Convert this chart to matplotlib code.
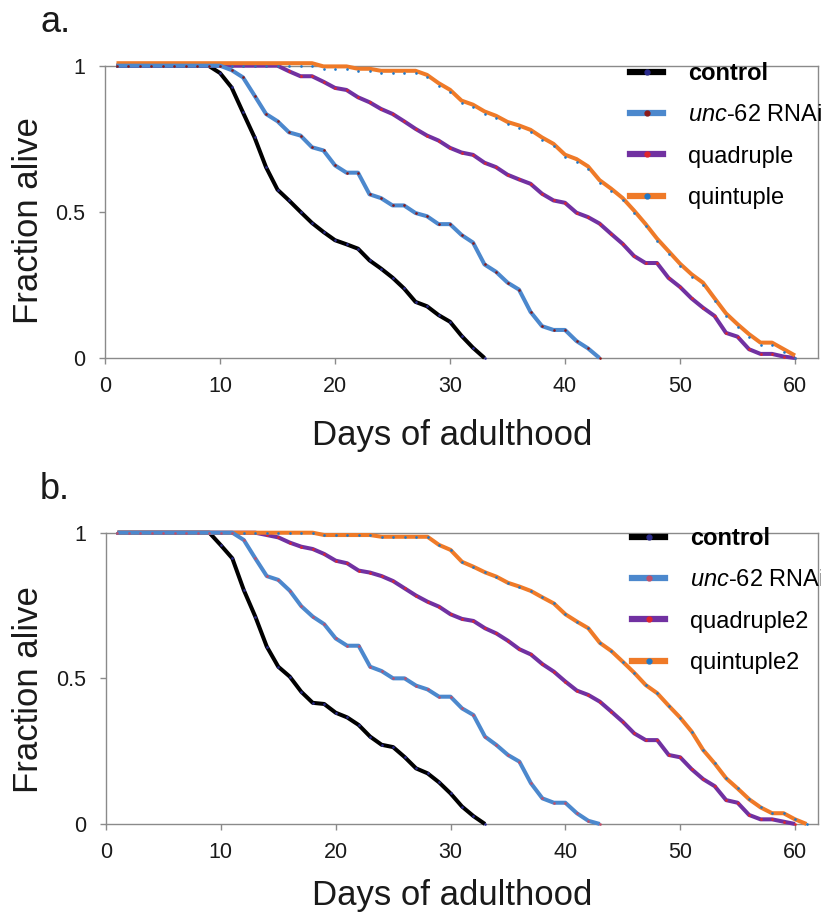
"""
Survival curves: control vs unc-62 RNAi vs quadruple / quintuple mutants
"""

import numpy as np
import matplotlib.pyplot as plt
from matplotlib.lines import Line2D
from matplotlib.transforms import offset_copy

plt.rcParams['font.family'] = ['Liberation Sans', 'DejaVu Sans']
plt.rcParams['mathtext.fontset'] = 'custom'
plt.rcParams['mathtext.it'] = 'Liberation Sans:italic'
plt.rcParams['mathtext.rm'] = 'Liberation Sans'

# ---- panel a: fraction alive per day (day 1 onwards) ----
control_a = [1.0, 1.0, 1.0, 1.0, 1.0, 1.0, 1.0, 1.0, 1.0, 0.975,
             0.926, 0.84, 0.755, 0.653, 0.576, 0.539, 0.50, 0.462, 0.431, 0.403,
             0.389, 0.374, 0.334, 0.306, 0.275, 0.238, 0.192, 0.177, 0.147, 0.124,
             0.076, 0.035, 0.0]
unc62_a = [1.0, 1.0, 1.0, 1.0, 1.0, 1.0, 1.0, 1.0, 1.0, 1.0,
           0.985, 0.96, 0.898, 0.835, 0.81, 0.772, 0.761, 0.721, 0.71, 0.659,
           0.634, 0.634, 0.56, 0.547, 0.522, 0.522, 0.496, 0.485, 0.458, 0.458,
           0.421, 0.395, 0.32, 0.295, 0.258, 0.234, 0.158, 0.109, 0.096, 0.096,
           0.058, 0.033, 0.0]
quad_a = [1.0, 1.0, 1.0, 1.0, 1.0, 1.0, 1.0, 1.0, 1.0, 1.0,
          1.0, 1.0, 1.0, 1.0, 1.0, 0.981, 0.964, 0.964, 0.945, 0.924,
          0.917, 0.892, 0.875, 0.852, 0.835, 0.81, 0.784, 0.761, 0.744, 0.719,
          0.703, 0.695, 0.668, 0.653, 0.627, 0.611, 0.596, 0.562, 0.539, 0.531,
          0.497, 0.482, 0.46, 0.425, 0.391, 0.349, 0.325, 0.325, 0.274, 0.243,
          0.204, 0.172, 0.144, 0.086, 0.073, 0.03, 0.014, 0.014, 0.005, 0.0]
quint_a = [1.0, 1.0, 1.0, 1.0, 1.0, 1.0, 1.0, 1.0, 1.0, 1.0,
           1.0, 1.0, 1.0, 1.0, 1.0, 1.0, 1.0, 1.0, 0.989, 0.989,
           0.989, 0.981, 0.981, 0.974, 0.974, 0.974, 0.974, 0.96, 0.932, 0.909,
           0.872, 0.858, 0.835, 0.82, 0.799, 0.787, 0.772, 0.746, 0.724, 0.687,
           0.672, 0.647, 0.60, 0.571, 0.539, 0.496, 0.45, 0.40, 0.357, 0.314,
           0.278, 0.249, 0.196, 0.144, 0.107, 0.073, 0.044, 0.044, 0.022, 0.0]

# ---- panel b ----
control_b = [1.0, 1.0, 1.0, 1.0, 1.0, 1.0, 1.0, 1.0, 1.0, 0.957,
             0.912, 0.803, 0.712, 0.609, 0.54, 0.506, 0.454, 0.416, 0.412, 0.382,
             0.366, 0.34, 0.30, 0.272, 0.264, 0.23, 0.191, 0.174, 0.143, 0.105,
             0.06, 0.027, 0.0]
unc62_b = [1.0, 1.0, 1.0, 1.0, 1.0, 1.0, 1.0, 1.0, 1.0, 1.0,
           1.0, 0.975, 0.912, 0.851, 0.838, 0.801, 0.748, 0.712, 0.686, 0.637,
           0.612, 0.612, 0.54, 0.525, 0.50, 0.50, 0.475, 0.462, 0.437, 0.437,
           0.397, 0.374, 0.30, 0.271, 0.237, 0.214, 0.14, 0.088, 0.073, 0.073,
           0.037, 0.011, 0.0]
quad_b = [1.0, 1.0, 1.0, 1.0, 1.0, 1.0, 1.0, 1.0, 1.0, 1.0,
          1.0, 1.0, 1.0, 0.992, 0.984, 0.966, 0.952, 0.944, 0.927, 0.904,
          0.895, 0.87, 0.863, 0.851, 0.834, 0.809, 0.784, 0.763, 0.746, 0.72,
          0.704, 0.697, 0.672, 0.654, 0.629, 0.60, 0.582, 0.549, 0.523, 0.489,
          0.458, 0.443, 0.42, 0.386, 0.351, 0.311, 0.288, 0.288, 0.237, 0.229,
          0.188, 0.154, 0.13, 0.082, 0.073, 0.031, 0.016, 0.016, 0.008, 0.0]
quint_b = [1.0, 1.0, 1.0, 1.0, 1.0, 1.0, 1.0, 1.0, 1.0, 1.0,
           1.0, 1.0, 1.0, 1.0, 1.0, 1.0, 1.0, 1.0, 0.992, 0.992,
           0.992, 0.992, 0.992, 0.986, 0.986, 0.986, 0.986, 0.986, 0.958, 0.941,
           0.90, 0.883, 0.864, 0.849, 0.828, 0.815, 0.80, 0.778, 0.757, 0.72,
           0.695, 0.672, 0.622, 0.594, 0.557, 0.519, 0.477, 0.449, 0.406, 0.365,
           0.317, 0.254, 0.208, 0.157, 0.122, 0.085, 0.057, 0.037, 0.037, 0.016,
           0.0]

labels_a = ['control', r'$\mathit{unc}$-$\mathit{62}$ RNAi', 'quadruple', 'quintuple']
labels_b = ['control', r'$\mathit{unc}$-$\mathit{62}$ RNAi', 'quadruple2', 'quintuple2']

x_ticks = [0, 10, 20, 30, 40, 50, 60]
y_ticks = [0, 0.5, 1]
y_ticklabels = ['0', '0.5', '1']

# line colour, marker colour, zorder
line_colors = ['#000000', '#4C88CD', '#7131A1', '#EF7A28']
marker_colors_a = ['#2B2B8C', '#8B1A1A', '#E0262B', '#1F78C8']
marker_colors_b = ['#2B2B8C', '#C0506A', '#E0262B', '#1F78C8']
zorders = [3, 6, 4, 5]

W, H = 821, 916
fig = plt.figure(figsize=(W / 100, H / 100), dpi=100)


def add_px_axes(left, top, right, bottom):
    return fig.add_axes([left / W, 1 - bottom / H, (right - left) / W, (bottom - top) / H])


def draw_panel(ax, series, labels, mcolors, line_shift, leg_xy):
    for i, vals in enumerate(series):
        days = np.arange(1, len(vals) + 1)
        tr = ax.transData
        if i == 3 and line_shift:
            tr = offset_copy(ax.transData, fig=fig, x=0, y=line_shift, units='dots')
        ax.plot(days, vals, '-', color=line_colors[i], lw=2.9, transform=tr,
                zorder=zorders[i], clip_on=False, solid_capstyle='butt')
        ax.plot(days, vals, 'o', color=mcolors[i], ms=1.9, mew=0,
                zorder=zorders[i] + 0.5, clip_on=False)

    ax.set_xlim(0, 62)
    ax.set_ylim(0, 1)
    ax.set_xticks(x_ticks)
    ax.set_yticks(y_ticks)
    ax.set_yticklabels(y_ticklabels)
    for s in ax.spines.values():
        s.set_color('#8A8A8A')
        s.set_linewidth(1.0)
    ax.tick_params(direction='out', length=4, width=1, color='#8A8A8A',
                   labelsize=15.5, labelcolor='#1A1A1A')
    ax.tick_params(axis='x', pad=9)
    ax.tick_params(axis='y', pad=10)

    handles = [Line2D([0], [0], color=line_colors[i], lw=4.5, marker='o',
                      ms=3.5, mfc=mcolors[i], mec=mcolors[i]) for i in range(4)]
    leg = ax.legend(handles, labels, loc='upper left', bbox_to_anchor=leg_xy,
                    bbox_transform=fig.transFigure, frameon=False, fontsize=17,
                    borderpad=0, borderaxespad=0, handlelength=1.4,
                    handletextpad=1.05, labelspacing=0.82)
    leg.get_texts()[0].set_fontweight('bold')


ax_a = add_px_axes(105, 65.7, 818, 358)
draw_panel(ax_a, [control_a, unc62_a, quad_a, quint_a], labels_a,
           marker_colors_a, 2.5, (630 / W, 1 - 62 / H))

ax_b = add_px_axes(106, 532.7, 818, 824)
draw_panel(ax_b, [control_b, unc62_b, quad_b, quint_b], labels_b,
           marker_colors_b, 0, (632 / W, 1 - 527 / H))

# panel letters and axis titles
fig.text(40 / W, 1 - 32 / H, 'a.', fontsize=26, ha='left', va='baseline', color='#1A1A1A')
fig.text(40 / W, 1 - 499 / H, 'b.', fontsize=26, ha='left', va='baseline', color='#1A1A1A')

for yc in (221, 690):
    fig.text(28 / W, 1 - yc / H, 'Fraction alive', rotation=90, fontsize=25,
             ha='center', va='center', color='#1A1A1A')
for yb in (445, 905):
    fig.text(452 / W, 1 - yb / H, 'Days of adulthood', fontsize=25,
             ha='center', va='baseline', color='#1A1A1A')

fig.savefig('out.png', dpi=100)
